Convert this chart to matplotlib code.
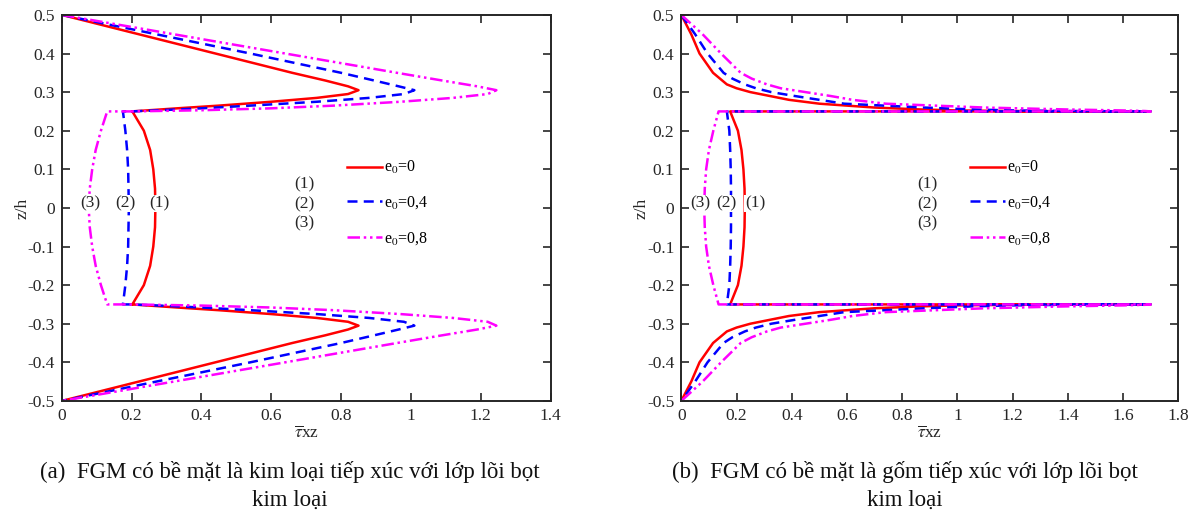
import matplotlib
matplotlib.use('Agg')
import matplotlib.pyplot as plt
import numpy as np
from matplotlib.ticker import FuncFormatter, MultipleLocator

plt.rcParams['font.family'] = ['Liberation Serif', 'DejaVu Serif']
plt.rcParams['mathtext.fontset'] = 'stix'

# ---- datos (perfil simetrico respecto a z/h = 0) ----
# (a) cara metalica: z desde la superficie (0.5) hasta la interfaz (0.25)
Z_FACE_A = [0.5, 0.45, 0.40, 0.35, 0.33, 0.315, 0.305, 0.295, 0.285, 0.275, 0.265, 0.258, 0.253, 0.25]
FACE_A_E0 = [0, 0.22, 0.44, 0.66, 0.755, 0.82, 0.85, 0.82, 0.73, 0.60, 0.45, 0.33, 0.25, 0.20]
FACE_A_E4 = [0, 0.27, 0.54, 0.80, 0.895, 0.965, 1.01, 0.98, 0.88, 0.73, 0.54, 0.40, 0.28, 0.20]
FACE_A_E8 = [0, 0.32, 0.64, 0.96, 1.09, 1.19, 1.245, 1.22, 1.12, 0.97, 0.78, 0.60, 0.40, 0.20]

# nucleo (espuma metalica): z desde 0.25 hasta 0
Z_CORE = [0.25, 0.2, 0.15, 0.1, 0.05, 0.0]
CORE_A_E0 = [0.202, 0.235, 0.253, 0.262, 0.267, 0.268]
CORE_A_E4 = [0.175, 0.182, 0.187, 0.190, 0.191, 0.192]
CORE_A_E8 = [0.130, 0.112, 0.097, 0.087, 0.080, 0.077]

# (b) cara ceramica
Z_FACE_B = [0.5, 0.45, 0.4, 0.35, 0.335, 0.32, 0.31, 0.3, 0.29, 0.28, 0.27, 0.26, 0.255, 0.2525, 0.251, 0.25]
FACE_B_E0 = [0, 0.036, 0.066, 0.115, 0.14, 0.165, 0.20, 0.25, 0.32, 0.39, 0.50, 0.70, 0.87, 1.0, 1.2, 1.7]
FACE_B_E4 = [0, 0.05, 0.095, 0.153, 0.185, 0.23, 0.27, 0.326, 0.41, 0.50, 0.59, 0.88, 1.06, 1.2, 1.4, 1.7]
FACE_B_E8 = [0, 0.077, 0.144, 0.215, 0.255, 0.31, 0.36, 0.45, 0.54, 0.62, 0.74, 1.10, 1.40, 1.6, 1.68, 1.7]

CORE_B_E0 = [0.177, 0.205, 0.218, 0.225, 0.229, 0.230]
CORE_B_E4 = [0.165, 0.174, 0.177, 0.179, 0.180, 0.180]
CORE_B_E8 = [0.135, 0.116, 0.100, 0.090, 0.085, 0.083]

LABELS = ['e$_0$=0', 'e$_0$=0,4', 'e$_0$=0,8']
STYLES = [dict(color='#ff0000', ls='-'),
          dict(color='#0000ff', ls=(0, (4, 2.5))),
          dict(color='#ff00ff', ls=(0, (5, 1.5, 1, 1.5, 1, 1.5)))]
TXT = '#262626'


def profile(z_face, x_face, x_core):
    zf = np.array(z_face); xf = np.array(x_face)
    zc = np.array(Z_CORE); xc = np.array(x_core)
    z = np.concatenate([zf, zc, -zc[::-1][1:], -zf[::-1]])
    x = np.concatenate([xf, xc, xc[::-1][1:], xf[::-1]])
    return x, z


def panel(ax, z_face, faces, cores, xmax, leg_x, num_x, curve_lbl):
    for xf, xc, st, lab in zip(faces, cores, STYLES, LABELS):
        x, z = profile(z_face, xf, xc)
        ax.plot(x, z, lw=1.8, label=lab, **st)
    ax.set_xlim(0, xmax)
    ax.set_ylim(-0.5, 0.5)
    ax.xaxis.set_major_locator(MultipleLocator(0.2))
    ax.yaxis.set_major_locator(MultipleLocator(0.1))
    fmt = FuncFormatter(lambda v, p: f'{round(v, 2):g}')
    ax.xaxis.set_major_formatter(fmt)
    ax.yaxis.set_major_formatter(fmt)
    ax.tick_params(direction='in', top=True, right=True, length=5.5, width=1.2,
                   labelsize=12.5, colors=TXT, pad=5)
    for s in ax.spines.values():
        s.set_linewidth(1.4)
        s.set_color(TXT)
    ax.set_xlabel(r'$\overline{\tau}$xz', fontsize=12.5, color=TXT, labelpad=1)
    ax.set_ylabel('z/h', fontsize=12.5, color=TXT, labelpad=-2)
    ax.legend(loc='center left', bbox_to_anchor=(leg_x, 0.013),
              bbox_transform=ax.transData, frameon=False, fontsize=11.5,
              borderpad=0, borderaxespad=0, handlelength=2.2,
              handletextpad=0.1, labelspacing=1.15)
    for k, yy in zip(['(1)', '(2)', '(3)'], [0.06, 0.01, -0.04]):
        ax.text(num_x, yy, k, ha='center', va='center', fontsize=12.5, color=TXT)
    for k, xx in zip(['(3)', '(2)', '(1)'], curve_lbl):
        ax.text(xx, 0.012, k, ha='center', va='center', fontsize=12.5, color=TXT,
                bbox=dict(facecolor='white', edgecolor='none', pad=0.5))


fig = plt.figure(figsize=(11.89, 5.14), dpi=100)
ax1 = fig.add_axes([0.052, 0.22, 0.411, 0.751])
ax2 = fig.add_axes([0.573, 0.22, 0.418, 0.751])

panel(ax1, Z_FACE_A, [FACE_A_E0, FACE_A_E4, FACE_A_E8], [CORE_A_E0, CORE_A_E4, CORE_A_E8],
      1.4, 0.818, 0.695, [0.083, 0.183, 0.28])
panel(ax2, Z_FACE_B, [FACE_B_E0, FACE_B_E4, FACE_B_E8], [CORE_B_E0, CORE_B_E4, CORE_B_E8],
      1.8, 1.046, 0.892, [0.069, 0.164, 0.268])

fig.text(290 / 1189, 1 - 486 / 514,
         '(a)  FGM có bề mặt là kim loại tiếp xúc với lớp lõi bọt\nkim loại',
         ha='center', va='center', multialignment='center', fontsize=16.5,
         linespacing=1.4, color='#111111')
fig.text(905 / 1189, 1 - 486 / 514,
         '(b)  FGM có bề mặt là gốm tiếp xúc với lớp lõi bọt\nkim loại',
         ha='center', va='center', multialignment='center', fontsize=16.5,
         linespacing=1.4, color='#111111')

fig.savefig('out.png', dpi=100, facecolor='white')
